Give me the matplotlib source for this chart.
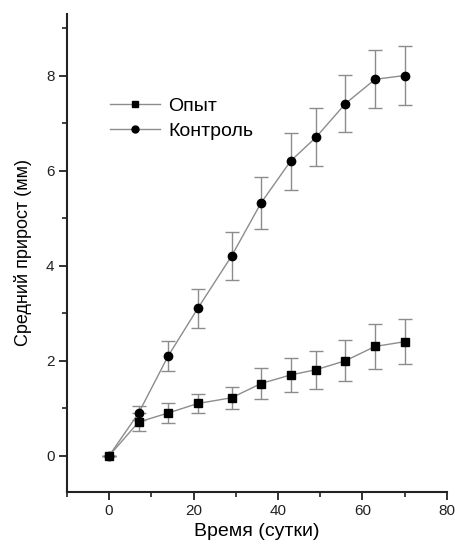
import matplotlib.pyplot as plt
from matplotlib.lines import Line2D
from matplotlib.ticker import MultipleLocator

plt.rcParams['font.family'] = ['Liberation Sans', 'DejaVu Sans']

# Сроки наблюдения (сутки)
sutki = [0, 7, 14, 21, 29, 36, 43, 49, 56, 63, 70]

# Опыт
opyt = [0, 0.71, 0.9, 1.1, 1.22, 1.52, 1.7, 1.81, 2.0, 2.3, 2.4]
opyt_err = [0, 0.18, 0.2, 0.21, 0.23, 0.33, 0.36, 0.4, 0.43, 0.48, 0.47]

# Контроль
kontrol = [0, 0.9, 2.1, 3.1, 4.2, 5.32, 6.2, 6.7, 7.41, 7.92, 8.0]
kontrol_err = [0, 0.15, 0.32, 0.41, 0.5, 0.54, 0.6, 0.61, 0.6, 0.61, 0.62]

fig = plt.figure(figsize=(4.55, 5.49), dpi=100)
ax = fig.add_axes([0.147, 0.104, 0.835, 0.871])

siriy = '#8c8c8c'
ax.errorbar(sutki, kontrol, yerr=kontrol_err, color=siriy, lw=1, marker='o', ms=6,
            mfc='black', mec='black', ecolor=siriy, elinewidth=1, capsize=5, capthick=1)
ax.errorbar(sutki, opyt, yerr=opyt_err, color=siriy, lw=1, marker='s', ms=6,
            mfc='black', mec='black', ecolor=siriy, elinewidth=1, capsize=5, capthick=1)

ax.set_xlim(-10, 80)
ax.set_ylim(-0.76, 9.3)
ax.xaxis.set_major_locator(MultipleLocator(20))
ax.xaxis.set_minor_locator(MultipleLocator(10))
ax.yaxis.set_major_locator(MultipleLocator(2))
ax.yaxis.set_minor_locator(MultipleLocator(1))
ax.set_yticks([0, 2, 4, 6, 8])

for s in ['top', 'right']:
    ax.spines[s].set_visible(False)
for s in ['left', 'bottom']:
    ax.spines[s].set_linewidth(1.5)
    ax.spines[s].set_color('#222222')
ax.tick_params(which='major', direction='out', length=6, width=1.3, labelsize=11,
               colors='#222222', pad=3)
ax.tick_params(which='minor', direction='out', length=3.5, width=1.2, colors='#222222')

ax.set_xlabel('Время (сутки)', fontsize=14, labelpad=3)
ax.set_ylabel('Средний прирост (мм)', fontsize=13, labelpad=10)

# легенда без планок погрешностей
ruchki = [Line2D([], [], color=siriy, lw=1, marker='s', ms=5, mfc='black', mec='black'),
          Line2D([], [], color=siriy, lw=1, marker='o', ms=5, mfc='black', mec='black')]
ax.legend(ruchki, ['Опыт', 'Контроль'], loc='upper left', bbox_to_anchor=(0.092, 0.841),
          frameon=False, handlelength=2.6, handletextpad=0.4, fontsize=14,
          labelspacing=0.35, borderaxespad=0)

fig.savefig('out.png', dpi=100)
